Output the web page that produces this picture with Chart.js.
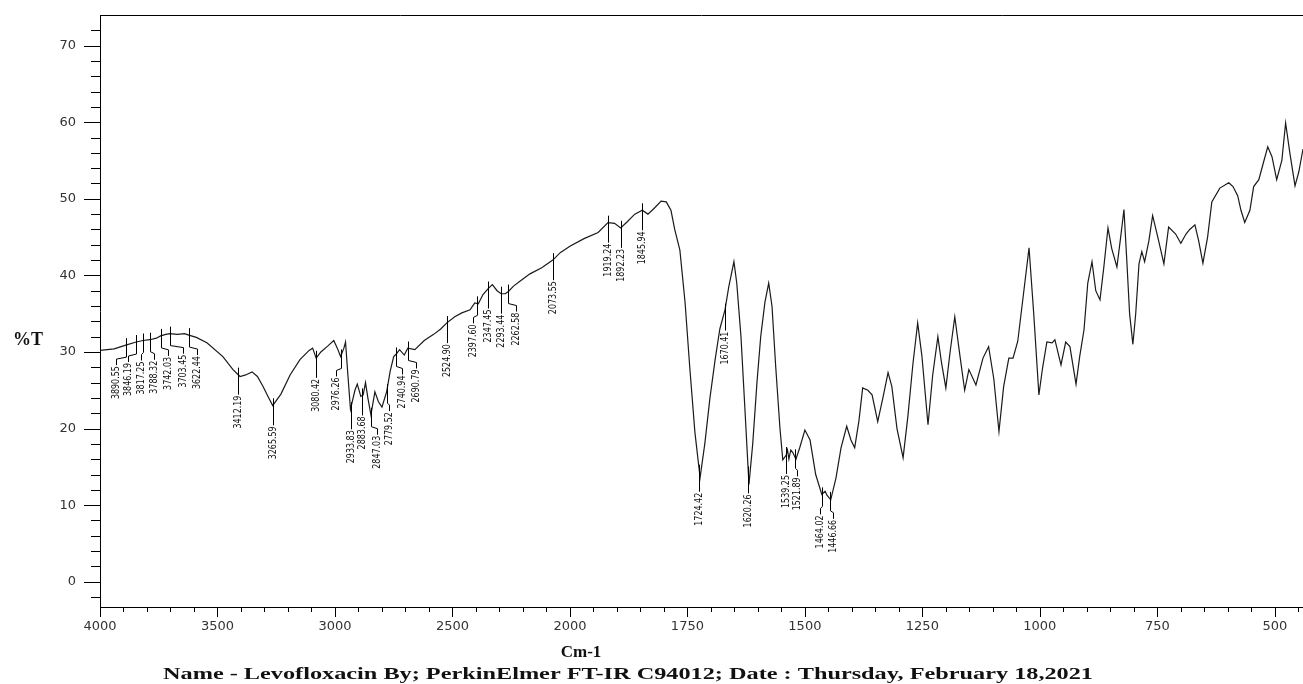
<!DOCTYPE html>
<html>
<head>
<meta charset="utf-8">
<script src="https://cdn.jsdelivr.net/npm/chart.js@4.4.0/dist/chart.umd.min.js"></script>
<style>
  html, body { margin: 0; padding: 0; background: #fff; }
</style>
</head>
<body>
<canvas id="ir" width="1303" height="684"></canvas>
<script>
// spectrum: wavenumber (cm-1) and %T
const waveNumbers = [
  4000, 3940, 3890, 3846, 3817, 3788, 3760, 3742, 3720, 3703, 3670, 3640, 3622, 3590, 3545,
  3477, 3434, 3404, 3380, 3353, 3330, 3306, 3285, 3265, 3230, 3191, 3149, 3110, 3095, 3080,
  3060, 3030, 3005, 2990, 2976, 2962, 2955, 2945, 2934, 2915, 2905, 2890, 2880, 2870, 2860,
  2847, 2830, 2815, 2800, 2780, 2765, 2750, 2740, 2725, 2705, 2690, 2660, 2620, 2580, 2550,
  2524, 2490, 2460, 2425, 2405, 2390, 2370, 2347, 2330, 2310, 2293, 2275, 2262, 2240, 2210,
  2170, 2120, 2073, 2040, 2000, 1970, 1940, 1919, 1905, 1892, 1878, 1862, 1846, 1834, 1820,
  1806, 1795, 1785, 1777, 1766, 1755, 1745, 1734, 1723, 1713, 1702, 1691, 1681, 1670, 1662,
  1651, 1645, 1636, 1628, 1619, 1611, 1602, 1594, 1585, 1577, 1570, 1562, 1553, 1547, 1540,
  1537, 1534, 1530, 1526, 1519, 1511, 1500, 1489, 1477, 1464, 1457, 1453, 1445, 1434, 1423,
  1411, 1402, 1394, 1385, 1377, 1366, 1357, 1345, 1334, 1323, 1315, 1304, 1291, 1281, 1270,
  1260, 1251, 1238, 1228, 1217, 1209, 1200, 1191, 1181, 1170, 1160, 1151, 1136, 1121, 1109,
  1098, 1087, 1077, 1066, 1057, 1047, 1034, 1023, 1013, 1002, 994, 985, 974, 968, 955,
  945, 936, 923, 915, 906, 898, 889, 881, 872, 864, 855, 847, 836, 828, 821,
  815, 809, 802, 796, 789, 783, 777, 768, 760, 749, 736, 726, 711, 700, 689,
  681, 670, 662, 653, 643, 634, 617, 598, 589, 579, 572, 564, 553, 545, 534,
  523, 515, 506, 496, 485, 477, 468, 457, 449, 440
];
const transmittance = [
  30.2, 30.4, 30.9, 31.3, 31.5, 31.6, 31.8, 32.1, 32.3, 32.4, 32.3, 32.4, 32.2, 31.9, 31.2,
  29.4, 27.7, 26.8, 27.0, 27.4, 26.8, 25.5, 24.2, 23.0, 24.5, 27.0, 29.0, 30.2, 30.5, 29.2,
  30.0, 30.8, 31.5, 30.5, 29.4, 30.5, 31.3, 27.0, 22.5, 25.0, 25.8, 24.2, 24.4, 26.0, 24.0,
  21.8, 24.8, 23.5, 22.8, 24.8, 27.5, 29.4, 29.7, 30.3, 29.6, 30.5, 30.3, 31.5, 32.3, 33.0,
  33.8, 34.6, 35.1, 35.5, 36.4, 36.3, 37.5, 38.3, 38.8, 38.0, 37.6, 37.6, 37.9, 38.6, 39.3,
  40.2, 41.0, 42.0, 43.0, 43.8, 44.8, 45.6, 46.9, 46.8, 46.2, 47.0, 48.0, 48.5, 48.0, 48.8,
  49.7, 49.6, 48.5, 46.0, 43.3, 36.5, 28.0, 19.5, 13.6, 18.0, 24.0, 29.0, 33.0, 35.5, 38.5,
  41.8, 39.0, 32.0, 23.0, 12.7, 18.0, 26.0, 32.0, 36.5, 39.0, 36.0, 28.0, 20.0, 15.9, 16.5,
  17.2, 16.0, 17.2, 16.9, 16.0, 17.5, 19.8, 18.5, 14.0, 11.4, 11.8, 11.3, 10.7, 13.5, 17.5,
  20.3, 18.5, 17.5, 21.0, 25.3, 25.0, 24.4, 20.9, 24.0, 27.3, 25.5, 20.0, 16.2, 21.5, 28.5,
  33.8, 29.5, 20.5, 27.0, 32.0, 28.5, 25.3, 30.0, 34.6, 29.5, 25.0, 27.7, 25.7, 29.2, 30.7,
  26.5, 19.6, 25.5, 29.2, 29.2, 31.4, 38.0, 43.6, 35.0, 24.4, 28.0, 31.3, 31.2, 31.6, 28.3,
  31.3, 30.7, 25.8, 29.5, 32.9, 39.0, 41.8, 38.0, 36.8, 41.0, 46.2, 43.5, 41.1, 45.0, 48.6,
  42.0, 35.0, 31.0, 35.0, 41.5, 43.1, 41.8, 44.5, 47.8, 45.0, 41.5, 46.3, 45.4, 44.2, 45.4,
  46.0, 46.6, 44.5, 41.6, 45.0, 49.6, 51.4, 52.1, 51.6, 50.4, 48.5, 46.9, 48.5, 51.6, 52.5,
  55.0, 56.8, 55.5, 52.5, 55.0, 59.9, 56.0, 51.7, 53.5, 56.5
];

// peak picks printed on the spectrum
const peakLabels = [
  "3890.55", "3846.19", "3817.25", "3788.32", "3742.03", "3703.45", "3622.44", "3412.19",
  "3265.59", "3080.42", "2976.26", "2933.83", "2883.68", "2847.03", "2779.52", "2740.94",
  "2690.79", "2524.90", "2397.60", "2347.45", "2293.44", "2262.58", "2073.55", "1919.24",
  "1892.23", "1845.94", "1724.42", "1670.41", "1620.26", "1539.25", "1521.89", "1464.02",
  "1446.66"
];
// sideways jog of each peak label from its marker (px)
const peakShift = [-10, -8, -2, 4, 7, 13, 8, 0, 0, 0, -5, 0, 0, 6, 2, 6, 8, 0, -4, 0, 0, 8, 0, 0, 0, 0, 0, 0, 0, 0, 2, -2, 3];

const majorX = [4000, 3500, 3000, 2500, 2000, 1750, 1500, 1250, 1000, 750, 500];
const xMin = 4000, xMax = 440;
const yMin = -3.3, yMax = 74;

// the instrument halves the scale below 2000 cm-1
function toPos(w) { return w >= 2000 ? (4000 - w) / 500 : 4 + (2000 - w) / 250; }
function fromPos(p) { return p <= 4 ? 4000 - p * 500 : 2000 - (p - 4) * 250; }

function valueAt(w) {
  for (let i = 0; i < waveNumbers.length - 1; i++) {
    const a = waveNumbers[i], b = waveNumbers[i + 1];
    if (w <= a && w >= b) {
      const t = (a - w) / (a - b);
      return transmittance[i] + t * (transmittance[i + 1] - transmittance[i]);
    }
  }
  return transmittance[transmittance.length - 1];
}

const points = waveNumbers.map((w, i) => ({ x: toPos(w), y: transmittance[i] }));

const serif = "'Liberation Serif', 'DejaVu Serif', serif";
const peakFont = "10px 'Liberation Sans Narrow', 'DejaVu Sans Condensed', 'Liberation Sans', sans-serif";

// tick marks, frame, peak picks and captions
const decorations = {
  id: 'decorations',
  afterDraw(chart) {
    const { ctx, chartArea, scales: { x, y } } = chart;
    ctx.save();
    ctx.strokeStyle = '#000';
    ctx.lineWidth = 1;
    ctx.beginPath();
    x.ticks.forEach(t => {
      const px = Math.round(x.getPixelForValue(t.value)) + 0.5;
      ctx.moveTo(px, chartArea.bottom);
      ctx.lineTo(px, chartArea.bottom + (t.label ? 10 : 5));
    });
    y.ticks.forEach(t => {
      const py = Math.round(y.getPixelForValue(t.value)) + 0.5;
      ctx.moveTo(chartArea.left, py);
      ctx.lineTo(chartArea.left - (t.label ? 16 : 9), py);
    });
    ctx.moveTo(chartArea.left, chartArea.top + 0.5);
    ctx.lineTo(chartArea.right, chartArea.top + 0.5);
    ctx.stroke();

    // peak markers and labels
    ctx.font = peakFont;
    const k = 33 / ctx.measureText('3890.55').width;
    ctx.fillStyle = '#111';
    ctx.lineWidth = 1;
    peakLabels.forEach((lab, i) => {
      const w = parseFloat(lab);
      const mx = Math.round(x.getPixelForValue(toPos(w))) + 0.5;
      const cy = y.getPixelForValue(valueAt(w));
      const lx = mx + peakShift[i];
      const top = cy + 20;
      ctx.beginPath();
      ctx.moveTo(mx, cy - 7);
      if (peakShift[i] === 0) {
        ctx.lineTo(mx, top);
      } else {
        ctx.lineTo(mx, cy + 12);
        ctx.lineTo(lx, cy + 14);
        ctx.lineTo(lx, top);
      }
      ctx.stroke();
      ctx.save();
      ctx.translate(lx, top + 1);
      ctx.rotate(-Math.PI / 2);
      ctx.scale(k, 1);
      ctx.textAlign = 'right';
      ctx.textBaseline = 'middle';
      ctx.fillText(lab, 0, 0);
      ctx.restore();
    });

    // axis captions
    ctx.fillStyle = '#111';
    ctx.textAlign = 'center';
    ctx.textBaseline = 'middle';
    ctx.font = 'bold 18px ' + serif;
    ctx.fillText('%T', 28, 340);
    ctx.font = 'bold 17px ' + serif;
    ctx.fillText('Cm-1', 581, 653);
    const title = 'Name - Levofloxacin By; PerkinElmer FT-IR C94012; Date : Thursday, February 18,2021';
    ctx.font = 'bold 16px ' + serif;
    const s = 930 / ctx.measureText(title).width;
    ctx.save();
    ctx.translate(628, 675);
    ctx.scale(s, 1);
    ctx.fillText(title, 0, 0);
    ctx.restore();
    ctx.restore();
  }
};

new Chart(document.getElementById('ir'), {
  type: 'line',
  data: {
    datasets: [{
      data: points,
      borderColor: '#1a1a1a',
      borderWidth: 1.2,
      pointRadius: 0,
      tension: 0,
      fill: false
    }]
  },
  options: {
    responsive: false,
    animation: false,
    devicePixelRatio: 1,
    layout: { padding: { top: 15, right: 0, left: 0, bottom: 0 } },
    plugins: { legend: { display: false }, tooltip: { enabled: false } },
    scales: {
      x: {
        type: 'linear',
        min: toPos(xMin),
        max: toPos(xMax),
        afterFit: s => {
          s.height = 77;
          s.paddingLeft = 0;
          s.paddingRight = 0;
        },
        afterBuildTicks: s => {
          const t = [];
          for (let w = 4000; w > 2000; w -= 100) t.push({ value: toPos(w) });
          for (let w = 2000; w >= 450; w -= 50) t.push({ value: toPos(w) });
          s.ticks = t;
        },
        grid: { display: true, drawOnChartArea: false, drawTicks: false },
        border: { display: true, color: '#000', width: 1 },
        ticks: {
          autoSkip: false,
          maxRotation: 0,
          minRotation: 0,
          padding: 12,
          color: '#333',
          font: { family: "'DejaVu Sans', Verdana, sans-serif", size: 13 },
          callback: v => {
            const w = Math.round(fromPos(v));
            return majorX.includes(w) ? String(w) : '';
          }
        }
      },
      y: {
        min: yMin,
        max: yMax,
        afterFit: s => {
          s.width = 100;
          s.paddingTop = 0;
          s.paddingBottom = 0;
        },
        afterBuildTicks: s => {
          const t = [];
          for (let v = -2; v <= 72; v += 2) t.push({ value: v });
          s.ticks = t;
        },
        grid: { display: true, drawOnChartArea: false, drawTicks: false },
        border: { display: true, color: '#000', width: 1 },
        ticks: {
          autoSkip: false,
          padding: 24,
          color: '#333',
          font: { family: "'DejaVu Sans', Verdana, sans-serif", size: 13 },
          callback: v => (v % 10 === 0 ? String(v) : '')
        }
      }
    }
  },
  plugins: [decorations]
});
</script>
</body>
</html>
